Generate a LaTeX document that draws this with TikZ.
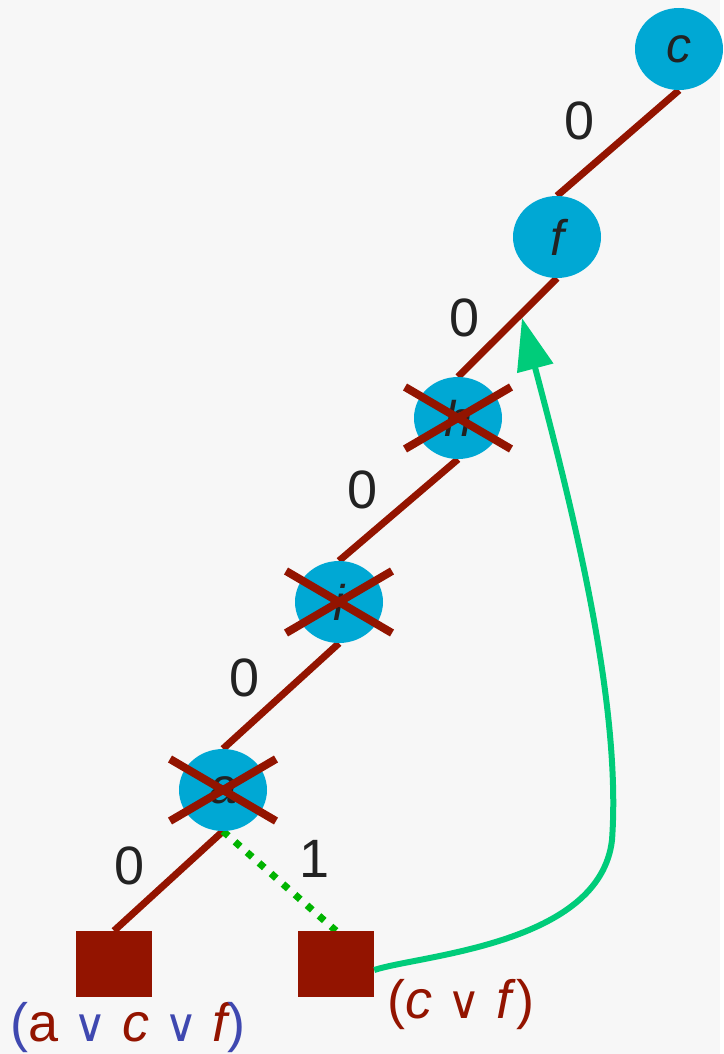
\documentclass[tikz,border=0pt]{standalone}
\usepackage{fontspec}
\setmainfont{Liberation Sans}
\newfontfamily\symfont{DejaVu Sans}
\usetikzlibrary{arrows.meta, shapes.geometric, backgrounds}
\definecolor{paper}{RGB}{247,247,247}
\definecolor{wine}{RGB}{147,20,0}
\definecolor{varblue}{RGB}{0,168,212}
\definecolor{learngreen}{RGB}{0,204,122}
\definecolor{dotgreen}{RGB}{0,180,0}
\definecolor{orblue}{RGB}{63,72,176}
\definecolor{ink}{RGB}{34,34,34}
\newcommand{\orsym}{{\symfont\fontsize{46}{50}\selectfont ∨}}

\begin{document}
\begin{tikzpicture}[
    x=1pt, y=-1pt,
    font=\fontsize{54}{60}\selectfont,
    var/.style={ellipse, fill=varblue, minimum width=88pt, minimum height=82pt,
        inner sep=0pt, text=ink, font=\fontsize{50}{56}\selectfont\itshape},
    clause/.style={rectangle, fill=wine, minimum width=76pt, minimum height=66pt, inner sep=0pt},
    branch/.style={draw=wine, line width=7pt},
    strike/.style={draw=wine, line width=8pt},
    lbl/.style={text=ink, inner sep=0pt},
    implied/.style={draw=dotgreen, line width=7pt, dash pattern=on 7pt off 9pt},
    learn/.style={draw=learngreen, line width=6pt, -{Triangle[length=52pt,width=36pt]}}
]
\node[var] (c) at (679,49) {c};
\node[var] (f) at (557,237) {f};
\node[var] (h) at (458,418) {h};
\node[var] (i) at (339,602) {i};
\node[var] (a) at (223,790) {a};
\node[clause] (left) at (114,964) {};
\node[clause] (right) at (336,964) {};
\coordinate (tip) at (522,318);

\begin{scope}[on background layer]
\fill[paper] (0,0) rectangle (720,1054);
\draw[branch] (left.north) -- (a.south);
\foreach \u/\v in {a/i,i/h,h/f,f/c}{\draw[branch] (\u.north) -- (\v.south);}
\draw[implied] (a.south) -- (right.north);
\end{scope}
\useasboundingbox (0,0) rectangle (720,1054);

\foreach \n in {a,i,h}{
    \draw[strike] ([shift={(-53,-31)}]\n.center) -- ([shift={(53,31)}]\n.center);
    \draw[strike] ([shift={(-53,31)}]\n.center) -- ([shift={(53,-31)}]\n.center);
}

\node[lbl] (w1) at (130,866) {0};
\node[lbl] (w2) at (245,678) {0};
\node[lbl] (w3) at (363,490) {0};
\node[lbl] (w4) at (465,318) {0};
\node[lbl] (w5) at (580,121) {0};
\node[lbl] (w6) at (315,859) {1};

\node[inner sep=0pt] (lefttext) at (128,1028) {{\color{orblue}(}{\color{wine}a} {\color{orblue}\orsym} {\color{wine}\itshape c} {\color{orblue}\orsym} {\color{wine}\itshape f}{\color{orblue})}};
\node[inner sep=0pt, text=wine] (righttext) at (461,1005) {(\textit{c} \orsym{} \textit{f})};

\draw[learn] ([yshift=-6pt]right.east) .. controls (420,955) and (600,945) .. (612,840)
    .. controls (622,700) and (570,500) .. (tip);
\end{tikzpicture}
\end{document}
